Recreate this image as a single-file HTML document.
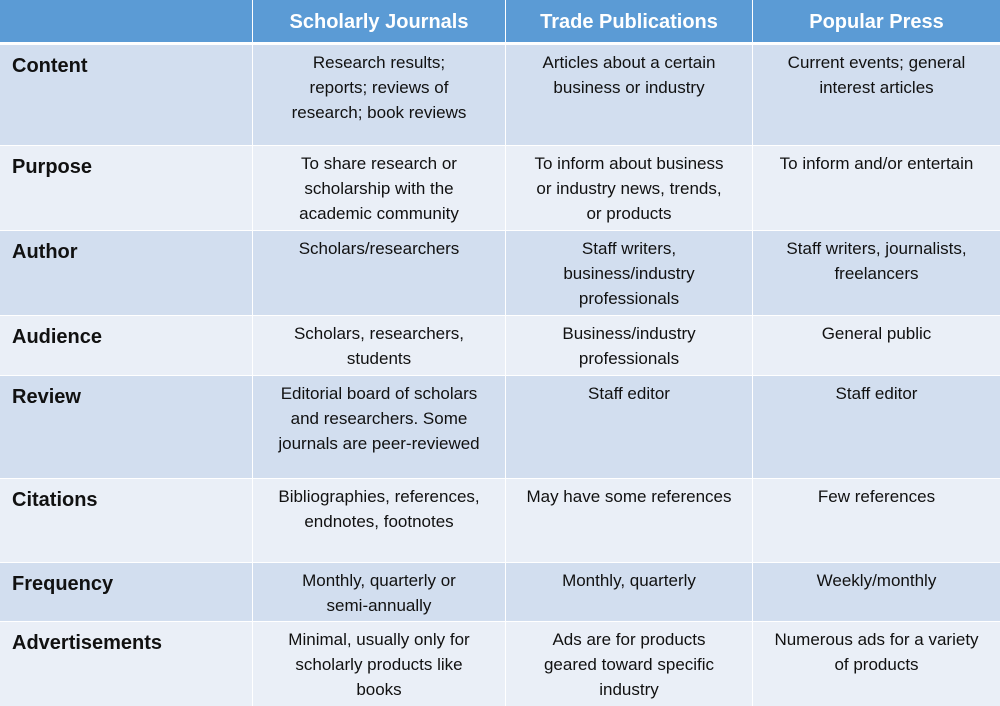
<!DOCTYPE html>
<html><head><meta charset="utf-8"><style>
body{margin:0;width:1000px;height:706px;overflow:hidden;background:#fff;font-family:"Liberation Sans",sans-serif}
.c{position:absolute;box-sizing:border-box;color:#111;font-size:17px;line-height:25px;text-align:center;padding-top:5px}
.h{background:#5B9BD5;color:#fff;font-weight:bold;font-size:20px;padding-top:9px;line-height:26px}
.l{text-align:left;padding-left:12px;font-weight:bold;font-size:20px;padding-top:9px}
.o{background:#D2DEEF}.e{background:#EAEFF7}
</style></head><body>
<div id="t"></div>
<script>
const cols=[[0,252],[253,505],[506,752],[753,1000]];
const rows=[[45,100],[146,84],[231,84],[316,59],[376,102],[479,83],[563,58],[622,84]];
const heads=["","Scholarly Journals","Trade Publications","Popular Press"];
const data=[
["Content","Research results;<br>reports; reviews of<br>research; book reviews","Articles about a certain<br>business or industry","Current events; general<br>interest articles"],
["Purpose","To share research or<br>scholarship with the<br>academic community","To inform about business<br>or industry news, trends,<br>or products","To inform and/or entertain"],
["Author","Scholars/researchers","Staff writers,<br>business/industry<br>professionals","Staff writers, journalists,<br>freelancers"],
["Audience","Scholars, researchers,<br>students","Business/industry<br>professionals","General public"],
["Review","Editorial board of scholars<br>and researchers. Some<br>journals are peer-reviewed","Staff editor","Staff editor"],
["Citations","Bibliographies, references,<br>endnotes, footnotes","May have some references","Few references"],
["Frequency","Monthly, quarterly or<br>semi-annually","Monthly, quarterly","Weekly/monthly"],
["Advertisements","Minimal, usually only for<br>scholarly products like<br>books","Ads are for products<br>geared toward specific<br>industry","Numerous ads for a variety<br>of products"]];
const t=document.getElementById('t');
cols.forEach((c,j)=>{
 const d=document.createElement('div');
 d.className='c h';
 
 
 d.style.cssText=`left:${c[0]}px;top:0;width:${c[1]-c[0]}px;height:42px`;
 d.textContent=heads[j];t.appendChild(d);
});
rows.forEach((r,i)=>{
 cols.forEach((c,j)=>{
  const d=document.createElement('div');
  d.className='c '+(i%2?'e':'o')+(j==0?' l':'');
  
  
  d.style.cssText=`left:${c[0]}px;top:${r[0]}px;width:${c[1]-c[0]}px;height:${r[1]}px`;
  d.innerHTML=data[i][j];t.appendChild(d);
 });
});
</script>
</body></html>
